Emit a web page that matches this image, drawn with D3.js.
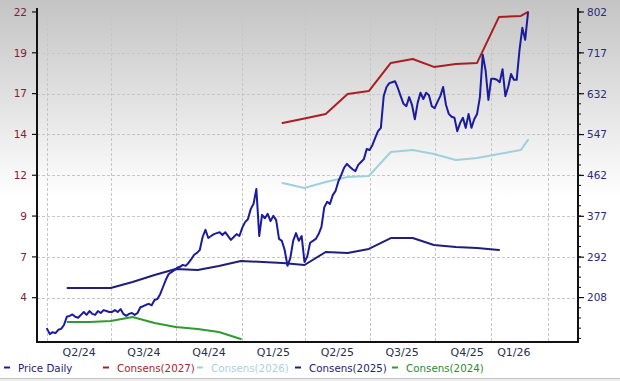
<!DOCTYPE html>
<html><head><meta charset="utf-8">
<script src="https://cdn.jsdelivr.net/npm/d3@7"></script>
<style>html,body{margin:0;padding:0;background:#fff;}svg{display:block;font-family:"DejaVu Sans",Verdana,sans-serif;}</style>
</head><body>
<svg id="chart" width="620" height="381"></svg>
<script>
// ---------------- DATA ----------------
const priceStart = "2024-04-01";
const priceStepDays = 4;
const priceValues = [
 143,132,136,134,141,143,151,168,170,173,168,166,172,178,172,180,174,172,180,176,182,180,178,
 178,182,178,184,174,170,174,176,172,176,188,190,193,195,192,203,205,215,230,245,257,261,265,
 270,272,276,274,280,288,297,301,307,334,349,332,336,340,342,344,338,344,336,328,334,340,336,
 353,365,371,392,403,434,336,380,373,382,367,378,369,330,326,307,274,290,326,342,326,336,282,
 294,322,326,330,340,355,396,407,403,421,430,450,463,478,486,480,475,471,484,490,496,517,
 515,525,540,554,561,627,646,654,656,658,644,627,611,606,625,609,579,613,634,621,634,629,606,
 602,615,627,646,609,590,584,582,554,571,582,561,590,561,579,590,625,713,681,619,663,663,661,656,683,627,646,673,661,661,723,769,744,800
];
const c2027Dates = ["2025-02-28","2025-03-31","2025-04-30","2025-05-31","2025-06-30","2025-07-31","2025-08-31","2025-09-30","2025-10-31","2025-11-30","2025-12-31","2026-01-31","2026-02-10"];
const c2027Values = [15.01,15.29,15.57,16.83,17.02,18.79,19.04,18.54,18.72,18.79,21.69,21.75,22.0];
const c2026Dates = c2027Dates;
const c2026Values = [11.23,10.91,11.29,11.61,11.67,13.18,13.31,13.05,12.68,12.80,13.05,13.31,13.94];
const c2025Dates = ["2024-04-30","2024-05-31","2024-06-30","2024-07-31","2024-08-31","2024-09-30","2024-10-31","2024-11-30","2024-12-31","2025-01-31","2025-02-28","2025-03-31","2025-04-30","2025-05-31","2025-06-30","2025-07-31","2025-08-31","2025-09-30","2025-10-31","2025-11-30","2025-12-31"];
const c2025Values = [4.61,4.61,4.61,4.99,5.43,5.81,5.75,6.00,6.31,6.25,6.19,6.06,6.88,6.82,7.07,7.76,7.76,7.32,7.20,7.13,7.01];
const c2024Dates = ["2024-04-30","2024-05-31","2024-06-30","2024-07-31","2024-08-31","2024-09-30","2024-10-31","2024-11-30","2024-12-31"];
const c2024Values = [2.47,2.47,2.53,2.79,2.41,2.16,2.03,1.84,1.40];

const quarterLabels = ["Q2/24","Q3/24","Q4/24","Q1/25","Q2/25","Q3/25","Q4/25","Q1/26"];
const quarterStarts = ["2024-04-01","2024-07-01","2024-10-01","2025-01-01","2025-04-01","2025-07-01","2025-10-01","2026-01-01"];
const quarterEnds   = ["2024-07-01","2024-10-01","2025-01-01","2025-04-01","2025-07-01","2025-10-01","2026-01-01","2026-02-10"];
const gridDates = ["2024-04-01","2024-07-01","2024-10-01","2025-01-01","2025-04-01","2025-07-01","2025-10-01","2025-12-19","2026-03-10"];

const leftTicks = [4, 6.571, 9.143, 11.714, 14.286, 16.857, 19.429, 22];
const leftTickLabels = ["4","7","9","12","14","17","19","22"];
const rightTicks = [208, 292, 377, 462, 547, 632, 717, 802];

const legendNames = ["Price Daily","Consens(2027)","Consens(2026)","Consens(2025)","Consens(2024)"];

// ---------------- CHART ----------------
const parse = d3.utcParse("%Y-%m-%d");
const W = 620, H = 381;
const P = {left:37, right:578, top:8, bottom:342};
const col = {price:"#1b1b9e", c2027:"#aa1e22", c2026:"#9fd0dc", c2025:"#1f1f7a", c2024:"#2f9a2f"};

const svg = d3.select("#chart");
const defs = svg.append("defs");
const grad = defs.append("linearGradient").attr("id","bg").attr("x1",0).attr("y1",0).attr("x2",0).attr("y2",1);
grad.append("stop").attr("offset","0").attr("stop-color","#c4c4c4");
grad.append("stop").attr("offset","0.52").attr("stop-color","#ffffff");
grad.append("stop").attr("offset","1").attr("stop-color","#ffffff");
svg.append("rect").attr("width",W).attr("height",H).attr("fill","url(#bg)");
svg.append("rect").attr("x",0).attr("y",378).attr("width",W).attr("height",3).attr("fill","#ededed");
svg.append("line").attr("x1",0).attr("x2",W).attr("y1",378.5).attr("y2",378.5).attr("stroke","#c4c4c4");

const x = d3.scaleUtc().domain([parse("2024-04-01"), parse("2026-02-10")]).range([47, 528]);
const yL = d3.scaleLinear().domain([1.21, 22.25]).range([P.bottom, P.top]);
const yR = d3.scaleLinear().domain([115.6, 810.3]).range([P.bottom, P.top]);

// grid
const g = svg.append("g");
g.selectAll("line.h").data(leftTicks).join("line").attr("class","h")
 .attr("x1",P.left).attr("x2",P.right).attr("y1",d=>Math.round(yL(d))+0.5).attr("y2",d=>Math.round(yL(d))+0.5)
 .attr("stroke","#c6c6c6").attr("stroke-dasharray","3,2");
g.selectAll("line.v").data(gridDates).join("line").attr("class","v")
 .attr("y1",P.top).attr("y2",P.bottom).attr("x1",d=>Math.round(x(parse(d)))+0.5).attr("x2",d=>Math.round(x(parse(d)))+0.5)
 .attr("stroke","#c6c6c6").attr("stroke-dasharray","3,2");

// series
function series(dates, values){ return dates.map((d,i)=>({date:parse(d), v:values[i]})); }
const lineL = d3.line().x(d=>x(d.date)).y(d=>yL(d.v));
const lineR = d3.line().x(d=>x(d.date)).y(d=>yR(d.v));
const startDate = parse(priceStart);
const price = priceValues.map((v,i)=>({date:d3.utcDay.offset(startDate, i*priceStepDays), v}));

const lines = svg.append("g").attr("fill","none").attr("stroke-linejoin","round").attr("stroke-linecap","round");
lines.append("path").attr("d",lineL(series(c2024Dates,c2024Values))).attr("stroke",col.c2024).attr("stroke-width",2);
lines.append("path").attr("d",lineL(series(c2025Dates,c2025Values))).attr("stroke",col.c2025).attr("stroke-width",2);
lines.append("path").attr("d",lineL(series(c2026Dates,c2026Values))).attr("stroke",col.c2026).attr("stroke-width",2);
lines.append("path").attr("d",lineL(series(c2027Dates,c2027Values))).attr("stroke",col.c2027).attr("stroke-width",2);
lines.append("path").attr("d",lineR(price)).attr("stroke",col.price).attr("stroke-width",2);

// axes frame
svg.append("line").attr("x1",P.left).attr("x2",P.left).attr("y1",P.top).attr("y2",P.bottom+1).attr("stroke","#111").attr("stroke-width",2);
svg.append("line").attr("x1",P.right).attr("x2",P.right).attr("y1",P.top).attr("y2",P.bottom+1).attr("stroke","#111").attr("stroke-width",2);
svg.append("line").attr("x1",P.left-1).attr("x2",P.right+1).attr("y1",P.bottom).attr("y2",P.bottom).attr("stroke","#111").attr("stroke-width",2);

// left axis
const la = svg.append("g");
la.selectAll("line").data(leftTicks).join("line")
 .attr("x1",P.left-5).attr("x2",P.left).attr("y1",d=>yL(d)).attr("y2",d=>yL(d)).attr("stroke","#111").attr("stroke-width",1.2);
la.selectAll("text").data(leftTicks).join("text")
 .attr("x",P.left-10).attr("y",d=>yL(d)).attr("dy","0.36em").attr("text-anchor","end")
 .attr("font-size",10.5).attr("fill","#7d2430").text((d,i)=>leftTickLabels[i]);

// right axis
const step = (rightTicks[7]-rightTicks[0])/7;
const minor = d3.range(-4, 33).map(k=>rightTicks[0]+k*step/4).filter(v=>yR(v)<=P.bottom-1 && yR(v)>=P.top+1);
const ra = svg.append("g");
ra.selectAll("line.mn").data(minor).join("line").attr("class","mn")
 .attr("x1",P.right).attr("x2",P.right+3).attr("y1",d=>yR(d)).attr("y2",d=>yR(d)).attr("stroke","#111");
ra.selectAll("line.mj").data(rightTicks).join("line").attr("class","mj")
 .attr("x1",P.right).attr("x2",P.right+6).attr("y1",d=>yR(d)).attr("y2",d=>yR(d)).attr("stroke","#111").attr("stroke-width",1.2);
ra.selectAll("text").data(rightTicks).join("text")
 .attr("x",P.right+9).attr("y",d=>yR(d)).attr("dy","0.36em")
 .attr("font-size",10.5).attr("fill","#2b2b7c").text(d=>d);

// x labels
svg.append("g").selectAll("text").data(quarterLabels).join("text")
 .attr("x",(d,i)=>(x(parse(quarterStarts[i]))+x(parse(quarterEnds[i])))/2)
 .attr("y",356).attr("text-anchor","middle").attr("font-size",11).attr("fill","#27304a").text(d=>d);

// legend
const legendColors = [col.price,col.c2027,col.c2026,col.c2025,col.c2024];
const legendTextColors = ["#1f2270","#a8262c","#a9d2dc","#1f2270","#2f8a2f"];
const legendX = [4, 103, 197, 295, 392];
const lg = svg.append("g");
legendNames.forEach((name,i)=>{
  lg.append("line").attr("x1",legendX[i]).attr("x2",legendX[i]+6).attr("y1",367.5).attr("y2",367.5).attr("stroke",legendColors[i]).attr("stroke-width",2);
  lg.append("text").attr("x",legendX[i]+14).attr("y",371.5).attr("font-size",10.3).attr("fill",legendTextColors[i]).text(name);
});
</script>
</body></html>
